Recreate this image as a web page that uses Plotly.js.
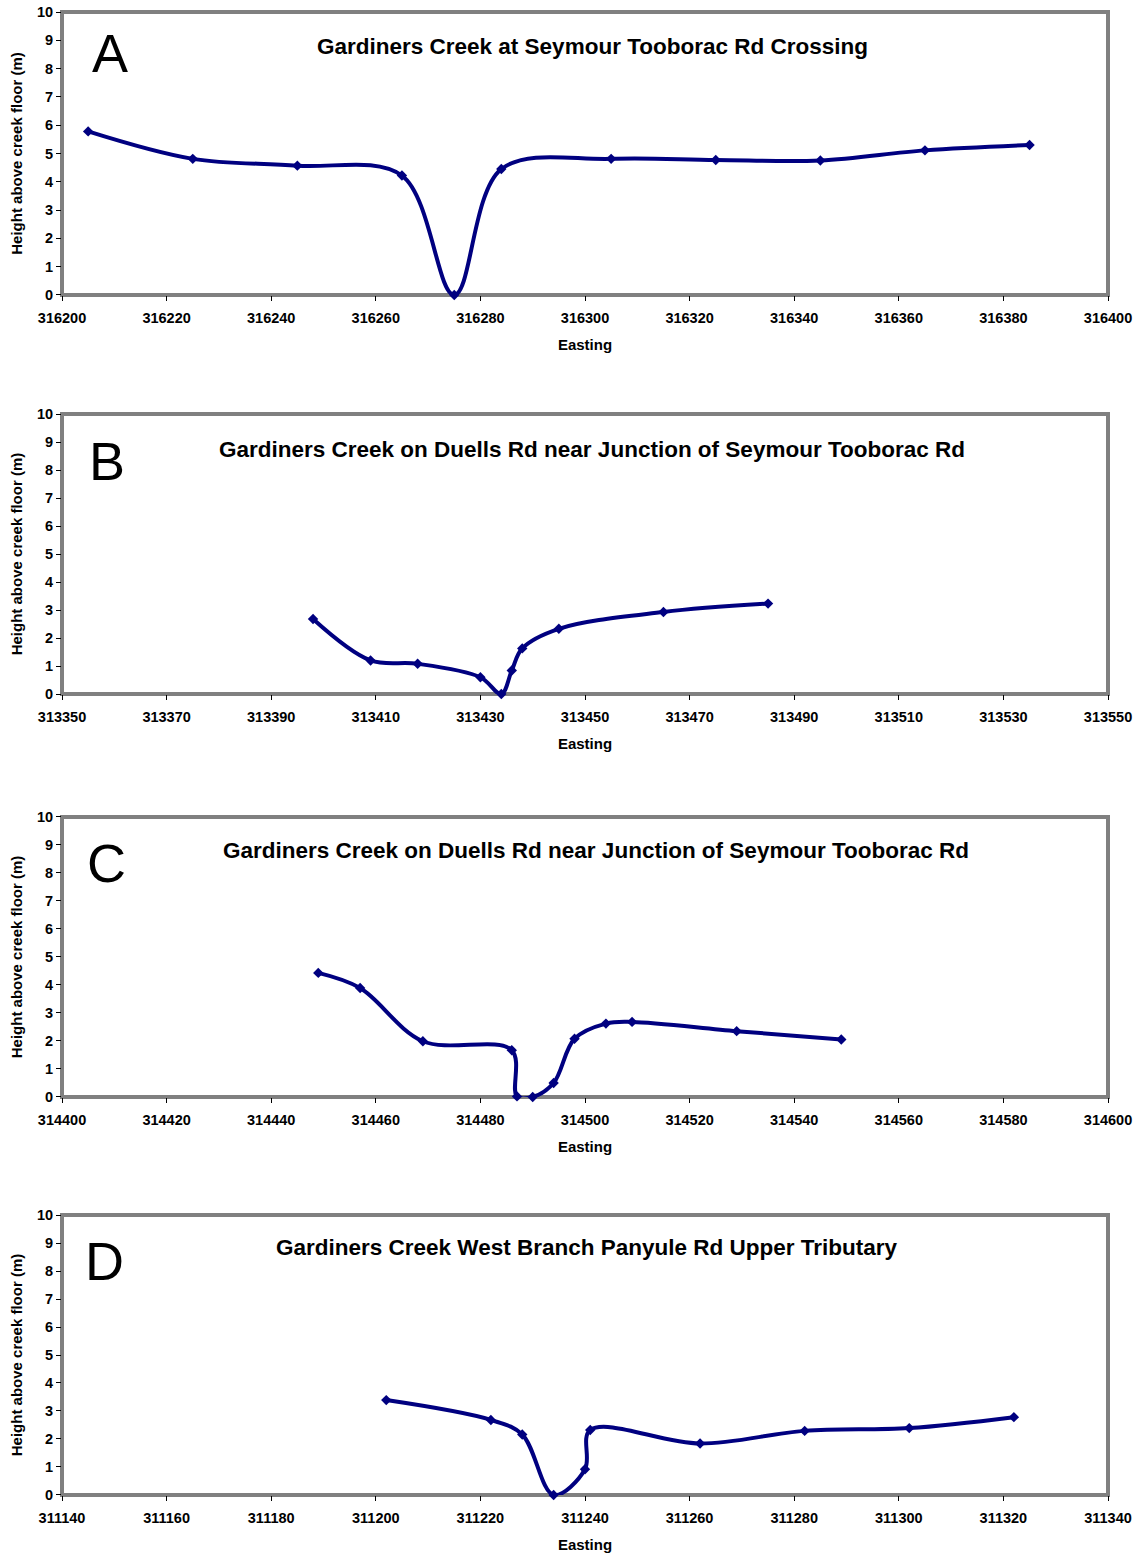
<!DOCTYPE html>
<html>
<head>
<meta charset="utf-8">
<script src="https://cdn.plot.ly/plotly-3.0.1.min.js"></script>
<style>html,body{margin:0;padding:0;background:#fff;}#chart{width:1148px;height:1553px;}</style>
</head>
<body>
<div id="chart"></div>
<script>
// Panel A
const titleA = "Gardiners Creek at Seymour Tooborac Rd Crossing";
const eastingA = [316205, 316225, 316245, 316265, 316275, 316284, 316305, 316325, 316345, 316365, 316385];
const heightA  = [5.78, 4.81, 4.57, 4.22, 0.0, 4.45, 4.81, 4.77, 4.75, 5.11, 5.30];
const rangeA = [316200, 316400];

// Panel B
const titleB = "Gardiners Creek on Duells Rd near Junction of Seymour Tooborac Rd";
const eastingB = [313398, 313409, 313418, 313430, 313434, 313436, 313438, 313445, 313465, 313485];
const heightB  = [2.68, 1.20, 1.08, 0.60, 0.0, 0.84, 1.63, 2.33, 2.93, 3.23];
const rangeB = [313350, 313550];

// Panel C
const titleC = "Gardiners Creek on Duells Rd near Junction of Seymour Tooborac Rd";
const eastingC = [314449, 314457, 314469, 314486, 314487, 314490, 314494, 314498, 314504, 314509, 314529, 314549];
const heightC  = [4.43, 3.89, 1.99, 1.67, 0.02, 0.0, 0.5, 2.08, 2.62, 2.68, 2.35, 2.05];
const rangeC = [314400, 314600];

// Panel D
const titleD = "Gardiners Creek West Branch Panyule Rd Upper Tributary";
const eastingD = [311202, 311222, 311228, 311234, 311240, 311241, 311262, 311282, 311302, 311322];
const heightD  = [3.39, 2.68, 2.16, 0.0, 0.92, 2.32, 1.84, 2.29, 2.39, 2.78];
const rangeD = [311140, 311340];

const panelLetters = ["A", "B", "C", "D"];
const yLabel = "Height above creek floor (m)";
const xLabel = "Easting";

const FONT = '"Liberation Sans", Arial, sans-serif';
const NAVY = '#000080';

const panels = [
  {t: titleA, x: eastingA, y: heightA, r: rangeA, dom: [0.8092, 1.0], tx: 0.5067, ty: 0.9764, lx: 0.0459, ly: 0.9725},
  {t: titleB, x: eastingB, y: heightB, r: rangeB, dom: [0.5401, 0.7289], tx: 0.5067, ty: 0.7047, lx: 0.043, ly: 0.6974},
  {t: titleC, x: eastingC, y: heightC, r: rangeC, dom: [0.2684, 0.4572], tx: 0.5105, ty: 0.4343, lx: 0.043, ly: 0.4263},
  {t: titleD, x: eastingD, y: heightD, r: rangeD, dom: [0.0, 0.1888], tx: 0.5019, ty: 0.1666, lx: 0.0411, ly: 0.1579}
];

const traces = [];
const layout = {
  width: 1148, height: 1553,
  margin: {l: 62, r: 40, t: 12, b: 58},
  paper_bgcolor: '#fff', plot_bgcolor: '#fff',
  showlegend: false,
  font: {family: FONT, color: '#000'},
  annotations: [], shapes: []
};

panels.forEach((p, i) => {
  const n = i === 0 ? '' : String(i + 1);
  traces.push({
    x: p.x, y: p.y, type: 'scatter', mode: 'lines+markers',
    xaxis: 'x' + n, yaxis: 'y' + n,
    line: {color: NAVY, width: 4, shape: 'spline', smoothing: 1},
    marker: {symbol: 'diamond', size: 8, color: NAVY},
    cliponaxis: false, hoverinfo: 'x+y'
  });
  layout['xaxis' + n] = {
    domain: [0, 1], anchor: 'y' + n, range: p.r, dtick: 20, tick0: p.r[0],
    showgrid: false, zeroline: false, showline: false,
    ticks: 'outside', ticklen: 5, tickcolor: '#000', tickwidth: 1,
    ticklabelstandoff: 5,
    tickformat: 'd', separatethousands: false,
    tickfont: {family: FONT, size: 14.5, color: '#000', weight: 'bold'},
    title: {text: xLabel, font: {family: FONT, size: 15, color: '#000', weight: 'bold'}, standoff: 14}
  };
  layout['yaxis' + n] = {
    domain: p.dom, anchor: 'x' + n, range: [0, 10], dtick: 1,
    showgrid: false, zeroline: false, showline: false,
    ticks: 'outside', ticklen: 5, tickcolor: '#000', tickwidth: 1,
    tickfont: {family: FONT, size: 14.5, color: '#000', weight: 'bold'},
    title: {text: yLabel, font: {family: FONT, size: 15, color: '#000', weight: 'bold'}, standoff: 10}
  };
  layout.shapes.push({
    type: 'rect', xref: 'x' + n + ' domain', yref: 'y' + n + ' domain',
    x0: 0, x1: 1, y0: 0, y1: 1, line: {color: '#808080', width: 4}, layer: 'below'
  });
  layout.annotations.push({
    text: '<b>' + p.t + '</b>', xref: 'paper', yref: 'paper', x: p.tx, y: p.ty,
    xanchor: 'center', yanchor: 'middle', showarrow: false,
    font: {family: FONT, size: 22.5, color: '#000'}
  });
  layout.annotations.push({
    text: panelLetters[i], xref: 'paper', yref: 'paper', x: p.lx, y: p.ly,
    xanchor: 'center', yanchor: 'middle', showarrow: false,
    font: {family: FONT, size: 54, color: '#000'}
  });
});

Plotly.newPlot('chart', traces, layout, {displayModeBar: false, staticPlot: true});
</script>
</body>
</html>
